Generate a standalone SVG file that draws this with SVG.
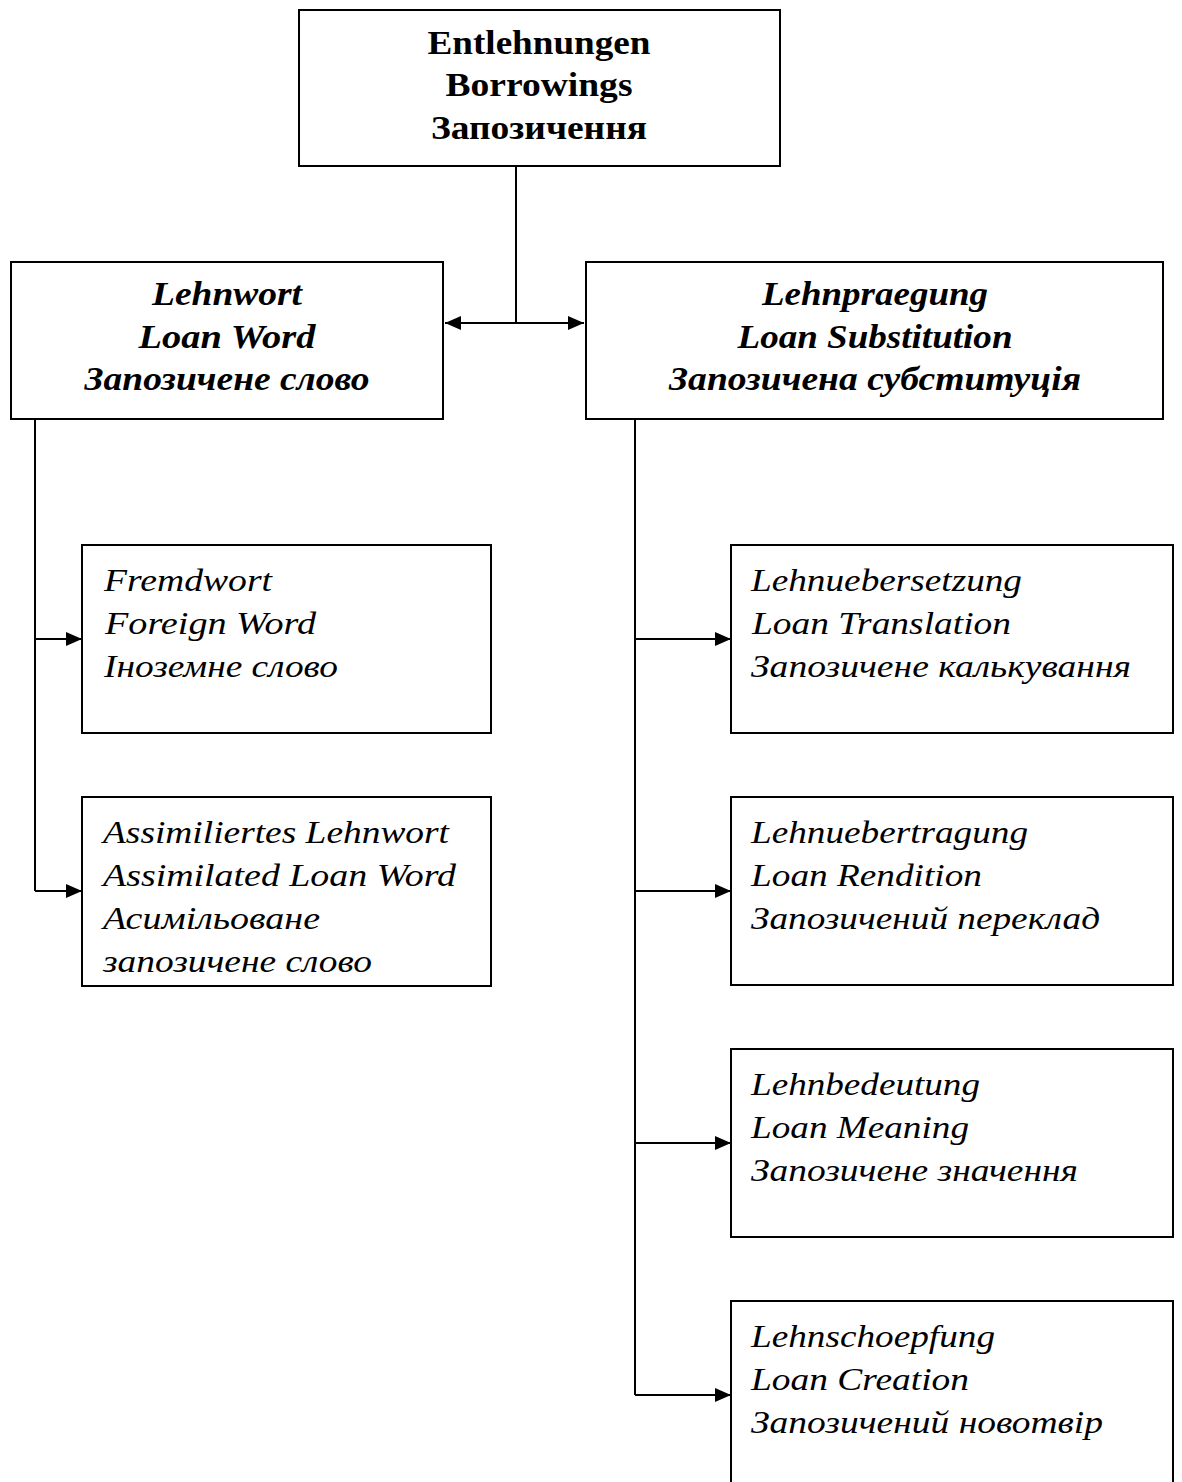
<svg xmlns="http://www.w3.org/2000/svg" width="1182" height="1482" viewBox="0 0 1182 1482">
<defs>
<style>
.box{fill:#fff;stroke:#000;stroke-width:2}
.ln{fill:none;stroke:#000;stroke-width:2}
.h0{font-size:33px;font-weight:bold;text-anchor:middle}
.h1{font-size:33px;font-weight:bold;font-style:italic;text-anchor:middle}
.lf{font-size:31px;font-style:italic}
</style>
<marker id="ah" viewBox="0 0 16 14" refX="16" refY="7" markerWidth="16" markerHeight="14" markerUnits="userSpaceOnUse" orient="auto-start-reverse">
<path d="M0,0 L16,7 L0,14 Z" fill="#000"/>
</marker>
</defs>
<rect width="1182" height="1482" fill="#fff"/>
<g id="connectors">
<path class="ln" d="M516,166 V323"/>
<path class="ln" d="M445,323 H584" marker-start="url(#ah)" marker-end="url(#ah)"/>
<path class="ln" d="M35,419 V891"/>
<path class="ln" d="M35,639 H82" marker-end="url(#ah)"/>
<path class="ln" d="M35,891 H82" marker-end="url(#ah)"/>
<path class="ln" d="M635,419 V1395"/>
<path class="ln" d="M635,639 H731" marker-end="url(#ah)"/>
<path class="ln" d="M635,891 H731" marker-end="url(#ah)"/>
<path class="ln" d="M635,1143 H731" marker-end="url(#ah)"/>
<path class="ln" d="M635,1395 H731" marker-end="url(#ah)"/>
</g>
<g font-family="'Liberation Serif', 'Times New Roman', serif" fill="#000">
<g id="node-borrowings">
<rect class="box" x="299" y="10" width="481" height="156"/>
<text class="h0" x="539" y="54" textLength="223" lengthAdjust="spacingAndGlyphs">Entlehnungen</text>
<text class="h0" x="539" y="96" textLength="187" lengthAdjust="spacingAndGlyphs">Borrowings</text>
<text class="h0" x="539" y="139" textLength="216" lengthAdjust="spacingAndGlyphs">Запозичення</text>
</g>
<g id="node-loanword">
<rect class="box" x="11" y="262" width="432" height="157"/>
<text class="h1" x="227" y="305" textLength="150" lengthAdjust="spacingAndGlyphs">Lehnwort</text>
<text class="h1" x="227" y="348" textLength="177" lengthAdjust="spacingAndGlyphs">Loan Word</text>
<text class="h1" x="227" y="390" textLength="285" lengthAdjust="spacingAndGlyphs">Запозичене слово</text>
</g>
<g id="node-loansubstitution">
<rect class="box" x="586" y="262" width="577" height="157"/>
<text class="h1" x="875" y="305" textLength="226" lengthAdjust="spacingAndGlyphs">Lehnpraegung</text>
<text class="h1" x="875" y="348" textLength="275" lengthAdjust="spacingAndGlyphs">Loan Substitution</text>
<text class="h1" x="875" y="390" textLength="412" lengthAdjust="spacingAndGlyphs">Запозичена субституція</text>
</g>
<g id="node-fremdwort">
<rect class="box" x="82" y="545" width="409" height="188"/>
<text class="lf" x="104" y="591" textLength="168" lengthAdjust="spacingAndGlyphs">Fremdwort</text>
<text class="lf" x="105" y="634" textLength="211" lengthAdjust="spacingAndGlyphs">Foreign Word</text>
<text class="lf" x="104" y="677" textLength="234" lengthAdjust="spacingAndGlyphs">Іноземне слово</text>
</g>
<g id="node-assimiliert">
<rect class="box" x="82" y="797" width="409" height="189"/>
<text class="lf" x="103" y="843" textLength="346" lengthAdjust="spacingAndGlyphs">Assimiliertes Lehnwort</text>
<text class="lf" x="103" y="886" textLength="353" lengthAdjust="spacingAndGlyphs">Assimilated Loan Word</text>
<text class="lf" x="103" y="929" textLength="217" lengthAdjust="spacingAndGlyphs">Асимільоване</text>
<text class="lf" x="103" y="972" textLength="269" lengthAdjust="spacingAndGlyphs">запозичене слово</text>
</g>
<g id="node-lehnuebersetzung">
<rect class="box" x="731" y="545" width="442" height="188"/>
<text class="lf" x="751" y="591" textLength="271" lengthAdjust="spacingAndGlyphs">Lehnuebersetzung</text>
<text class="lf" x="752" y="634" textLength="259" lengthAdjust="spacingAndGlyphs">Loan Translation</text>
<text class="lf" x="751" y="677" textLength="380" lengthAdjust="spacingAndGlyphs">Запозичене калькування</text>
</g>
<g id="node-lehnuebertragung">
<rect class="box" x="731" y="797" width="442" height="188"/>
<text class="lf" x="751" y="843" textLength="277" lengthAdjust="spacingAndGlyphs">Lehnuebertragung</text>
<text class="lf" x="751" y="886" textLength="231" lengthAdjust="spacingAndGlyphs">Loan Rendition</text>
<text class="lf" x="751" y="929" textLength="349" lengthAdjust="spacingAndGlyphs">Запозичений переклад</text>
</g>
<g id="node-lehnbedeutung">
<rect class="box" x="731" y="1049" width="442" height="188"/>
<text class="lf" x="751" y="1095" textLength="229" lengthAdjust="spacingAndGlyphs">Lehnbedeutung</text>
<text class="lf" x="751" y="1138" textLength="218" lengthAdjust="spacingAndGlyphs">Loan Meaning</text>
<text class="lf" x="751" y="1181" textLength="327" lengthAdjust="spacingAndGlyphs">Запозичене значення</text>
</g>
<g id="node-lehnschoepfung">
<rect class="box" x="731" y="1301" width="442" height="200"/>
<text class="lf" x="751" y="1347" textLength="244" lengthAdjust="spacingAndGlyphs">Lehnschoepfung</text>
<text class="lf" x="751" y="1390" textLength="218" lengthAdjust="spacingAndGlyphs">Loan Creation</text>
<text class="lf" x="751" y="1433" textLength="352" lengthAdjust="spacingAndGlyphs">Запозичений новотвір</text>
</g>
</g>
</svg>
